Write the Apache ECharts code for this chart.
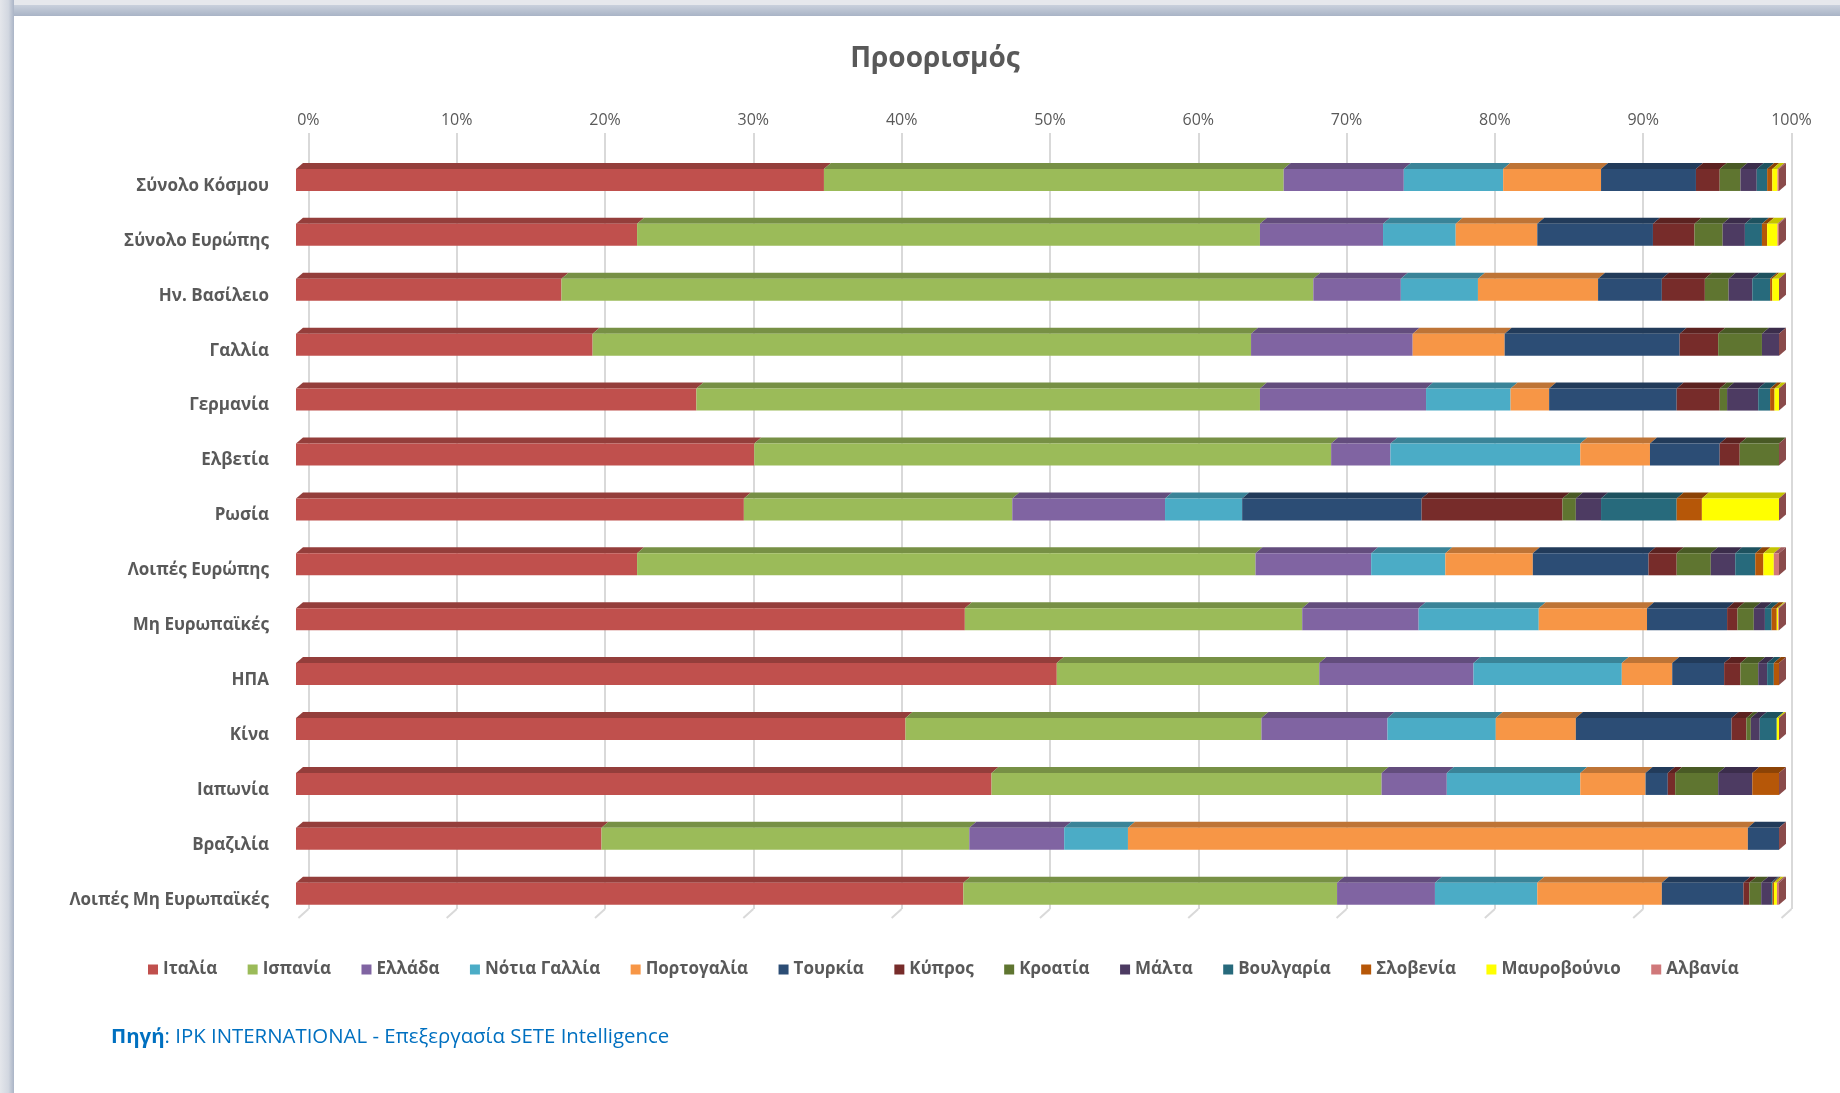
<!DOCTYPE html>
<html>
<head>
<meta charset="utf-8">
<title>Προορισμός</title>
<script src="https://cdn.jsdelivr.net/npm/echarts@6/dist/echarts.min.js"></script>
<style>
  html, body { margin: 0; padding: 0; background: #fff; }
  #chart { width: 1840px; height: 1093px; }
</style>
</head>
<body>
<div id="chart"></div>
<script>
// categories (top to bottom)
const categories = ['Σύνολο Κόσμου', 'Σύνολο Ευρώπης', 'Ην. Βασίλειο', 'Γαλλία', 'Γερμανία', 'Ελβετία', 'Ρωσία',
  'Λοιπές Ευρώπης', 'Μη Ευρωπαϊκές', 'ΗΠΑ', 'Κίνα', 'Ιαπωνία', 'Βραζιλία', 'Λοιπές Μη Ευρωπαϊκές']

const countries = ['Ιταλία', 'Ισπανία', 'Ελλάδα', 'Νότια Γαλλία', 'Πορτογαλία', 'Τουρκία', 'Κύπρος',
  'Κροατία', 'Μάλτα', 'Βουλγαρία', 'Σλοβενία', 'Μαυροβούνιο', 'Αλβανία']

// shares in % per category
const italia      = [35.6, 23.0, 17.9, 20.0, 27.0, 30.9, 30.2, 23.0, 45.1, 51.3, 41.1, 46.9, 20.6, 45.0]
const ispania     = [31.0, 42.0, 50.7, 44.4, 38.0, 38.9, 18.1, 41.7, 22.75, 17.7, 24.0, 26.3, 24.8, 25.2]
const ellada      = [8.1, 8.3, 5.9, 10.9, 11.2, 4.0, 10.3, 7.8, 7.85, 10.4, 8.5, 4.4, 6.4, 6.6]
const notiaGallia = [6.7, 4.9, 5.2, 0, 5.7, 12.8, 5.2, 5.0, 8.1, 10.0, 7.3, 9.0, 4.3, 6.9]
const portogalia  = [6.6, 5.5, 8.1, 6.2, 2.6, 4.7, 0, 5.9, 7.3, 3.4, 5.4, 4.4, 41.8, 8.4]
const tourkia     = [6.4, 7.8, 4.3, 11.8, 8.6, 4.7, 12.1, 7.8, 5.4, 3.5, 10.5, 1.5, 2.1, 5.5]
const kypros      = [1.6, 2.8, 2.9, 2.6, 2.9, 1.35, 9.5, 1.9, 0.7, 1.1, 1.0, 0.5, 0, 0.4]
const kroatia     = [1.4, 1.9, 1.6, 2.95, 0.5, 2.65, 0.9, 2.3, 1.1, 1.2, 0.3, 2.9, 0, 0.8]
const malta       = [1.1, 1.5, 1.6, 1.15, 2.1, 0, 1.7, 1.65, 0.75, 0.6, 0.6, 2.3, 0, 0.66]
const voulgaria   = [0.7, 1.15, 1.2, 0, 0.8, 0, 5.1, 1.35, 0.45, 0.45, 1.15, 0, 0, 0.1]
const slovenia    = [0.35, 0.35, 0.15, 0, 0.3, 0, 1.7, 0.55, 0.35, 0.35, 0, 1.8, 0, 0.1]
const mavrovounio = [0.35, 0.7, 0.45, 0, 0.3, 0, 5.2, 0.7, 0.1, 0, 0.15, 0, 0, 0.2]
const alvania     = [0.1, 0.1, 0, 0, 0, 0, 0, 0.35, 0.05, 0, 0, 0, 0, 0.14]

const xTicks = [0, 10, 20, 30, 40, 50, 60, 70, 80, 90, 100]

const seriesValues = [italia, ispania, ellada, notiaGallia, portogalia, tourkia, kypros,
  kroatia, malta, voulgaria, slovenia, mavrovounio, alvania]

const colors = ['#C0504D', '#9BBB59', '#8064A2', '#4BACC6', '#F79646', '#2C4D75', '#772C2A',
  '#5F7530', '#4D3B62', '#276A7C', '#B65708', '#FFFF00', '#D0787A']

const FONT = "'Open Sans', 'Noto Sans', sans-serif"
const TEXT = '#595959'
const DX = 7       // 3d depth offset
const DY = 6
const FRONT_H = 22 // front face height
const CAP = '#8A4B4B'

const darken = (hex, f) => {
  const n = parseInt(hex.slice(1), 16)
  const r = Math.round(((n >> 16) & 255) * f)
  const g = Math.round(((n >> 8) & 255) * f)
  const b = Math.round((n & 255) * f)
  return 'rgb(' + r + ',' + g + ',' + b + ')'
}

// build stacked start/end pairs for the custom 3d bars
const cum = categories.map(() => 0)
const barSeries = countries.map((name, s) => {
  const data = categories.map((c, i) => {
    const start = cum[i]
    cum[i] += seriesValues[s][i]
    return [start, cum[i], i]
  })
  const isLast = s === countries.length - 1
  const col = colors[s]
  const top = darken(col, 0.77)
  return {
    name,
    type: 'custom',
    xAxisIndex: 0,
    yAxisIndex: 0,
    itemStyle: { color: col },
    encode: { x: [0, 1], y: 2 },
    data,
    renderItem: (params, api) => {
      const p0 = api.coord([api.value(0), api.value(2)])
      const p1 = api.coord([api.value(1), api.value(2)])
      const yt = p0[1] - FRONT_H / 2
      const w = p1[0] - p0[0]
      const children = []
      if (w > 0.05) {
        children.push({
          type: 'polygon',
          shape: { points: [[p0[0], yt], [p0[0] + DX, yt - DY], [p1[0] + DX, yt - DY], [p1[0], yt]] },
          style: { fill: top }
        })
        children.push({
          type: 'rect',
          shape: { x: p0[0], y: yt, width: w, height: FRONT_H },
          style: { fill: col }
        })
      }
      if (isLast) {
        children.push({
          type: 'polygon',
          shape: { points: [[p1[0], yt], [p1[0] + DX, yt - DY], [p1[0] + DX, yt + FRONT_H - DY], [p1[0], yt + FRONT_H]] },
          style: { fill: CAP }
        })
      }
      return { type: 'group', children }
    }
  }
})

// little slanted floor lines at the foot of each gridline
const floorSeries = {
  type: 'custom',
  xAxisIndex: 1,
  yAxisIndex: 1,
  silent: true,
  data: xTicks.map(v => [v, 0]),
  renderItem: (params, api) => {
    const p = api.coord([api.value(0), 0])
    return {
      type: 'line',
      shape: { x1: p[0], y1: p[1], x2: p[0] - 10, y2: p[1] + 9 },
      style: { stroke: '#d9d9d9', lineWidth: 2 }
    }
  }
}

const chart = echarts.init(document.getElementById('chart'))

chart.setOption({
  backgroundColor: '#ffffff',
  animation: false,
  color: colors,
  textStyle: { fontFamily: FONT },
  grid: [
    { left: 296, right: 61, top: 152.5, bottom: 171.8 },
    { left: 308.4, right: 48.5, top: 133, bottom: 184 },
    // labels sit a little lower than the bar fronts
    { left: 296, right: 61, top: 158.5, bottom: 165.8 }
  ],
  xAxis: [
    { gridIndex: 0, type: 'value', min: 0, max: 100, show: false },
    {
      gridIndex: 1,
      type: 'value',
      position: 'top',
      min: 0,
      max: 100,
      interval: 10,
      axisLine: { show: false },
      axisTick: { show: false },
      axisLabel: { formatter: '{value}%', color: TEXT, fontSize: 16, margin: 5, fontFamily: FONT },
      splitLine: { show: true, lineStyle: { color: '#d9d9d9', width: 2 } }
    },
    { gridIndex: 2, type: 'value', min: 0, max: 100, show: false }
  ],
  yAxis: [
    { gridIndex: 0, type: 'category', data: categories, inverse: true, show: false },
    { gridIndex: 1, type: 'value', min: 0, max: 1, show: false },
    {
      gridIndex: 2,
      type: 'category',
      data: categories,
      inverse: true,
      axisLine: { show: false },
      axisTick: { show: false },
      splitLine: { show: false },
      axisLabel: {
        color: TEXT,
        fontSize: 17,
        fontWeight: 'bold',
        fontFamily: FONT,
        margin: 27
      }
    }
  ],
  legend: {
    data: countries,
    left: 143,
    top: 956,
    icon: 'rect',
    itemWidth: 10,
    itemHeight: 10,
    itemGap: 30.5,
    textStyle: { color: TEXT, fontSize: 17, fontWeight: 'bold', fontFamily: FONT }
  },
  graphic: [
    // window frame shadow
    { type: 'rect', left: 0, top: 0, shape: { width: 1840, height: 5 }, style: { fill: '#e6e8ec' }, z: 10 },
    {
      type: 'rect', left: 0, top: 5, shape: { width: 1840, height: 11 }, z: 10,
      style: { fill: new echarts.graphic.LinearGradient(0, 0, 0, 1, [{ offset: 0, color: '#c9d0dc' }, { offset: 1, color: '#a9b4c6' }]) }
    },
    {
      type: 'rect', left: 0, top: 0, shape: { width: 14, height: 1093 }, z: 11,
      style: { fill: new echarts.graphic.LinearGradient(0, 0, 1, 0, [{ offset: 0, color: '#e4e6eb' }, { offset: 0.6, color: '#d2d7e0' }, { offset: 1, color: '#aab4c6' }]) }
    },
    {
      type: 'text', x: 935, y: 59, z: 5,
      style: { text: 'Προορισμός', align: 'center', verticalAlign: 'middle', fill: TEXT, font: 'bold 28px ' + FONT }
    },
    {
      type: 'text', x: 111, y: 1037, z: 5,
      style: {
        text: '{b|Πηγή}: IPK INTERNATIONAL - Επεξεργασία SETE Intelligence',
        verticalAlign: 'middle',
        fill: '#0070C0',
        font: '20.4px ' + FONT,
        rich: { b: { fontWeight: 'bold', fill: '#0070C0', fontSize: 20.4, fontFamily: FONT } }
      }
    }
  ],
  series: [floorSeries].concat(barSeries)
})
</script>
</body>
</html>
